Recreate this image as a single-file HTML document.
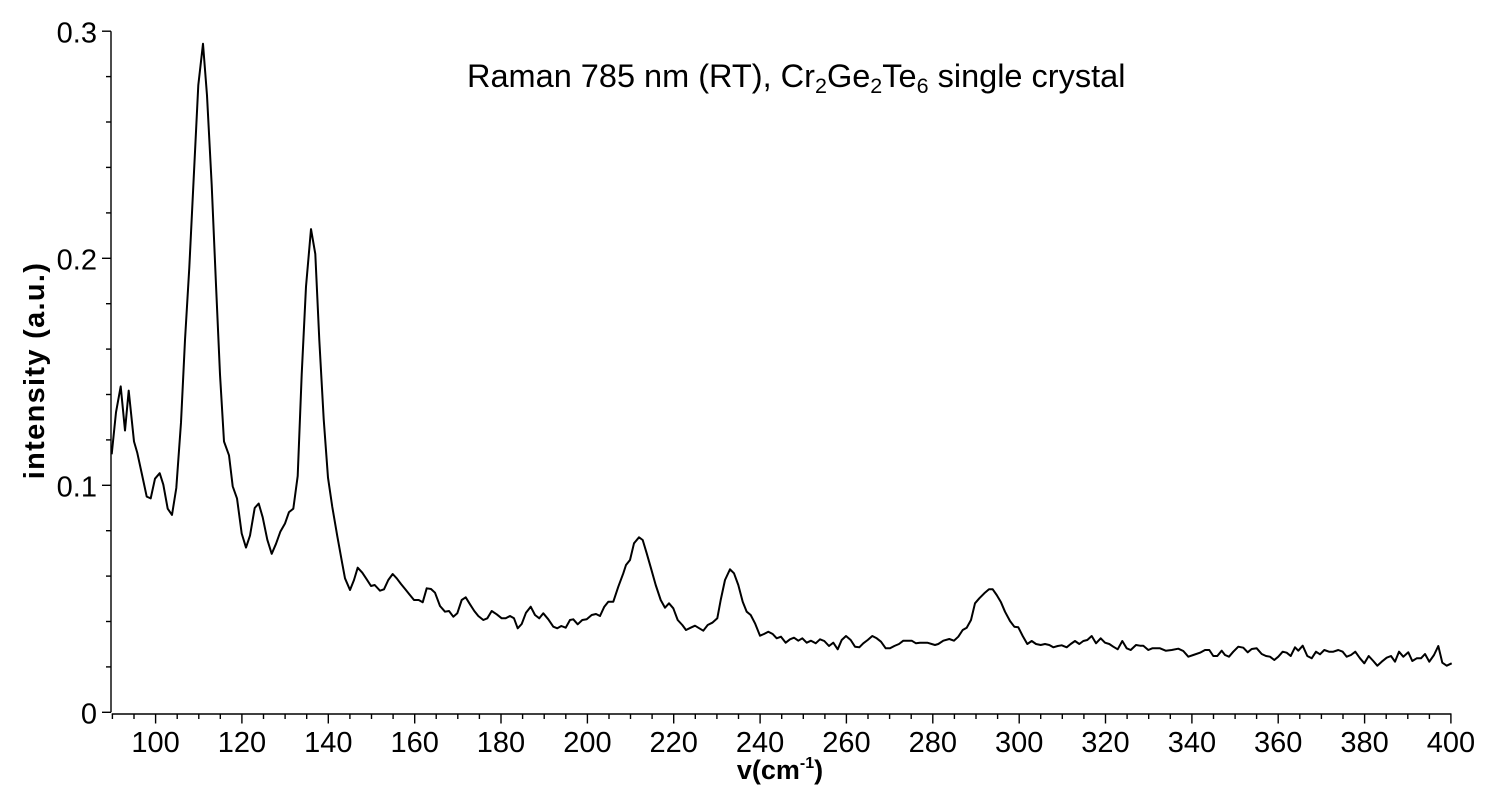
<!DOCTYPE html>
<html>
<head>
<meta charset="utf-8">
<style>
html,body{margin:0;padding:0;background:#fff;}
svg{display:block;}
text{font-family:"Liberation Sans",Arial,sans-serif;fill:#000;}
</style>
</head>
<body>
<svg width="1496" height="787" viewBox="0 0 1496 787" xmlns="http://www.w3.org/2000/svg">
<rect x="0" y="0" width="1496" height="787" fill="#fff"/>
<g stroke="#000" stroke-width="1.4" fill="none">
<line x1="111" y1="31.2" x2="111" y2="712.3"/>
<line x1="102" y1="31.2" x2="111" y2="31.2"/>
<line x1="102" y1="258.3" x2="111" y2="258.3"/>
<line x1="102" y1="485.3" x2="111" y2="485.3"/>
<line x1="102" y1="712.3" x2="111" y2="712.3"/>
<line x1="106" y1="76.6" x2="111" y2="76.6"/>
<line x1="106" y1="122" x2="111" y2="122"/>
<line x1="106" y1="167.4" x2="111" y2="167.4"/>
<line x1="106" y1="212.9" x2="111" y2="212.9"/>
<line x1="106" y1="303.7" x2="111" y2="303.7"/>
<line x1="106" y1="349.1" x2="111" y2="349.1"/>
<line x1="106" y1="394.5" x2="111" y2="394.5"/>
<line x1="106" y1="439.9" x2="111" y2="439.9"/>
<line x1="106" y1="530.7" x2="111" y2="530.7"/>
<line x1="106" y1="576.1" x2="111" y2="576.1"/>
<line x1="106" y1="621.5" x2="111" y2="621.5"/>
<line x1="106" y1="666.9" x2="111" y2="666.9"/>
<line x1="111.7" y1="714" x2="1451.5" y2="714"/>
</g>
<g font-size="29" text-anchor="end">
<text x="97" y="42.3">0.3</text>
<text x="97" y="269.3">0.2</text>
<text x="97" y="496.3">0.1</text>
<text x="97" y="723.3">0</text>
</g>
<text x="780" y="779" font-size="27" font-weight="bold" text-anchor="middle">v(cm<tspan font-size="16" dy="-11">-1</tspan><tspan dy="11">)</tspan></text>
<text transform="translate(44,370.5) rotate(-90)" font-size="29" font-weight="bold" letter-spacing="1.3" text-anchor="middle">intensity (a.u.)</text>
<text x="467" y="87" font-size="32.5">Raman 785 nm (RT), Cr<tspan font-size="21.5" dy="6">2</tspan><tspan dy="-6">Ge</tspan><tspan font-size="21.5" dy="6">2</tspan><tspan dy="-6">Te</tspan><tspan font-size="21.5" dy="6">6</tspan><tspan dy="-6"> single crystal</tspan></text>
<polyline fill="none" stroke="#000" stroke-width="2" stroke-linejoin="round" points="
111.7,454.3 116,412.3 120.7,386.4 125,430.5 128.7,390.6 134,441.5 137.3,452.9 142.3,476.0 146.7,496.6 150.7,498.4 155,478.7 159.7,473.2 163.3,484.6 167.7,508.7 172,514.9 176.3,488.0 181,422.6 185,340.0 189.3,267.6 193.7,178.1 198.3,85.1 203,43.8 207,95.4 211.7,185.0 216,284.8 220,374.4 224,441.5 229,455.3 232.7,486.3 237,498.4 241.7,533.5 246,547.6 250,535.6 254.7,508.0 258.7,503.5 262.7,517.3 267.3,539.7 271.7,553.8 276,543.8 280.3,531.8 285,523.5 289,512.1 293.3,508.7 297.7,476.0 301.7,374.4 306,286.6 311,229.1 315.3,253.9 319.3,340.0 323.7,419.2 328,477.7 332.3,507.0 337.3,536.2 342.3,563.8
345,578.3 350,590 354,580 357.7,567.7 362.3,572.7 366.7,579.3 371,586 374.7,585 380,590.7 384,589.3 388.3,580 392.7,574 396.7,578.3 401,584 405.3,589.3 409.3,594.3 414,600 418.7,600 422.7,602.3 426.7,588.3 431,589 435,592.7 440,606 445,611.7 449,611 453.3,616.7 457.3,613.3 461.7,600 465.7,597.3 470,604.3 474.3,611 478.3,616 483.3,620 487.3,618.3 491.7,611 496.7,614.3 501.7,618.3 505.7,618.3 510,616 514,618.3 517.7,628.3 521.7,624 526,612.7 530.7,606.7 535,615 539.3,618.3 543.3,613.3 548.3,619.3 553.3,626.7 557.3,628.3 561.3,626 565.7,627.7 570,620 573.3,619.3 577.7,624.3 582.3,620 586.7,619.3 591.7,615 596,614 600,616 604.3,606.7 608.3,601.7 613.3,601.7 618.3,586.7 623.3,573.3 626,565
630,560 634,543.3 639,537.3 642.7,540 646.7,553.3 651,568.3 655.7,585 660.7,600 665,607.7 669,603.3 673.3,608.3 677.7,620 682.3,625 686,630 690.7,627.7 695,625.7 699.3,628.3 703.3,630.7 707.7,625 712.3,622.7 717.3,618.3 720.7,600 725,580 730,569.3 734,573.3 738.3,585 742.7,601.7 746.7,611.7 750.7,615 755,623.3 760,635.7 764,634 768.3,631.7 772.7,634 776.7,638.3 781,636.7 785.7,642.7 790,639.3 794,637.7 798.3,640.7 802.3,638.3 806.7,642.7 811,640.7 815.7,643.3 820,639.3 824.3,641 829,646 833.3,642.7 837.7,649.3 841.7,640 846,636 850.7,640 855,646.7 859.3,647.3 863.3,643.3 867.7,640 872.3,636 876.7,638.3 881,641.7 885.7,648.3 890,648.3 894.3,646 899,644 903.3,640.7 911.7,640.7 916,643.3
920,642.7 927.3,642.7 935,645 938.3,644 943.3,640.7 949.3,639 954,640.7 958.3,636.7 962.7,630 966.7,627.7 971,620 975,603.3 979.3,598.3 984.3,593.3 989,589.3 992.7,589.3 996.7,595 1001,602.3 1005,611.7 1010,621 1014.3,626.7 1018.3,627.3 1022.7,636 1027.3,644 1031.7,641 1036,644 1040.7,645 1045,644 1049.3,645 1053.3,647.3 1057.7,646 1061.7,645.3 1066.7,647.3 1070.7,644 1075,641 1079.3,644 1083.3,641 1087.3,640 1091.7,636 1096,643.3 1100.7,638.3 1105,642.7 1109.3,644 1113.3,646.7 1117.7,649.3 1122.3,641 1126.7,648.3 1130.7,650 1136,645 1140,645.7 1143.3,645.7 1148.3,650 1152.3,648.3 1160,648.3 1165.7,650.7 1171.7,650 1178.3,648.7 1183.3,651 1188.3,656.7 1193.3,655 1200,652.7 1205,650 1209.3,650
1213.3,656 1217.3,656 1221.7,650.7 1225,655 1229,656.7 1233.3,651.7 1238.3,646.7 1243.3,647.7 1247.7,652.3 1251.7,649 1256.7,648.3 1261.7,654 1266,656 1270,656.7 1274.3,660 1278.3,656.7 1282.7,651.7 1286.7,652.7 1290.7,656 1295,647.3 1298.3,650.7 1302.7,645.7 1307.3,656 1311.7,658.3 1316,651.7 1320,654.3 1324.3,650 1329,651.7 1333.3,651.7 1338.3,650 1342.7,651.7 1346.7,656.7 1351,655 1355.3,651.7 1360,658.3 1364.3,663.3 1368.7,656 1373.3,661 1377.3,665.7 1381.7,661.7 1386.7,657.7 1391,656 1395,661.7 1399,651.7 1403.3,656.7 1408.3,652.3 1412.3,661 1416.7,658.3 1421,658.3 1425,654 1429.3,661.7 1434,655 1438.3,646 1442.3,662.7 1446.7,665.7 1451.7,663.3"/>
<g stroke="#000" stroke-width="1.4">
<line x1="112.4" y1="714" x2="112.4" y2="719"/><line x1="134" y1="714" x2="134" y2="719"/><line x1="155.6" y1="714" x2="155.6" y2="723.5"/><line x1="177.2" y1="714" x2="177.2" y2="719"/><line x1="198.8" y1="714" x2="198.8" y2="719"/><line x1="220.3" y1="714" x2="220.3" y2="719"/><line x1="241.9" y1="714" x2="241.9" y2="723.5"/><line x1="263.5" y1="714" x2="263.5" y2="719"/><line x1="285.1" y1="714" x2="285.1" y2="719"/><line x1="306.7" y1="714" x2="306.7" y2="719"/><line x1="328.3" y1="714" x2="328.3" y2="723.5"/><line x1="349.9" y1="714" x2="349.9" y2="719"/><line x1="371.5" y1="714" x2="371.5" y2="719"/><line x1="393.1" y1="714" x2="393.1" y2="719"/><line x1="414.7" y1="714" x2="414.7" y2="723.5"/><line x1="436.2" y1="714" x2="436.2" y2="719"/><line x1="457.8" y1="714" x2="457.8" y2="719"/><line x1="479.4" y1="714" x2="479.4" y2="719"/><line x1="501" y1="714" x2="501" y2="723.5"/><line x1="522.6" y1="714" x2="522.6" y2="719"/><line x1="544.2" y1="714" x2="544.2" y2="719"/><line x1="565.8" y1="714" x2="565.8" y2="719"/><line x1="587.4" y1="714" x2="587.4" y2="723.5"/><line x1="609" y1="714" x2="609" y2="719"/><line x1="630.5" y1="714" x2="630.5" y2="719"/><line x1="652.1" y1="714" x2="652.1" y2="719"/><line x1="673.7" y1="714" x2="673.7" y2="723.5"/><line x1="695.3" y1="714" x2="695.3" y2="719"/><line x1="716.9" y1="714" x2="716.9" y2="719"/><line x1="738.5" y1="714" x2="738.5" y2="719"/><line x1="760.1" y1="714" x2="760.1" y2="723.5"/><line x1="781.7" y1="714" x2="781.7" y2="719"/><line x1="803.3" y1="714" x2="803.3" y2="719"/><line x1="824.9" y1="714" x2="824.9" y2="719"/><line x1="846.4" y1="714" x2="846.4" y2="723.5"/><line x1="868" y1="714" x2="868" y2="719"/><line x1="889.6" y1="714" x2="889.6" y2="719"/><line x1="911.2" y1="714" x2="911.2" y2="719"/><line x1="932.8" y1="714" x2="932.8" y2="723.5"/><line x1="954.4" y1="714" x2="954.4" y2="719"/><line x1="976" y1="714" x2="976" y2="719"/><line x1="997.6" y1="714" x2="997.6" y2="719"/><line x1="1019.2" y1="714" x2="1019.2" y2="723.5"/><line x1="1040.7" y1="714" x2="1040.7" y2="719"/><line x1="1062.3" y1="714" x2="1062.3" y2="719"/><line x1="1083.9" y1="714" x2="1083.9" y2="719"/><line x1="1105.5" y1="714" x2="1105.5" y2="723.5"/><line x1="1127.1" y1="714" x2="1127.1" y2="719"/><line x1="1148.7" y1="714" x2="1148.7" y2="719"/><line x1="1170.3" y1="714" x2="1170.3" y2="719"/><line x1="1191.9" y1="714" x2="1191.9" y2="723.5"/><line x1="1213.5" y1="714" x2="1213.5" y2="719"/><line x1="1235.1" y1="714" x2="1235.1" y2="719"/><line x1="1256.6" y1="714" x2="1256.6" y2="719"/><line x1="1278.2" y1="714" x2="1278.2" y2="723.5"/><line x1="1299.8" y1="714" x2="1299.8" y2="719"/><line x1="1321.4" y1="714" x2="1321.4" y2="719"/><line x1="1343" y1="714" x2="1343" y2="719"/><line x1="1364.6" y1="714" x2="1364.6" y2="723.5"/><line x1="1386.2" y1="714" x2="1386.2" y2="719"/><line x1="1407.8" y1="714" x2="1407.8" y2="719"/><line x1="1429.4" y1="714" x2="1429.4" y2="719"/><line x1="1450.9" y1="714" x2="1450.9" y2="723.5"/>
</g>
<g font-size="29" text-anchor="middle">
<text x="155.6" y="752">100</text><text x="241.9" y="752">120</text><text x="328.3" y="752">140</text><text x="414.7" y="752">160</text><text x="501" y="752">180</text><text x="587.4" y="752">200</text><text x="673.7" y="752">220</text><text x="760.1" y="752">240</text><text x="846.4" y="752">260</text><text x="932.8" y="752">280</text><text x="1019.2" y="752">300</text><text x="1105.5" y="752">320</text><text x="1191.9" y="752">340</text><text x="1278.2" y="752">360</text><text x="1364.6" y="752">380</text><text x="1450.9" y="752">400</text>
</g>
</svg>
</body>
</html>
